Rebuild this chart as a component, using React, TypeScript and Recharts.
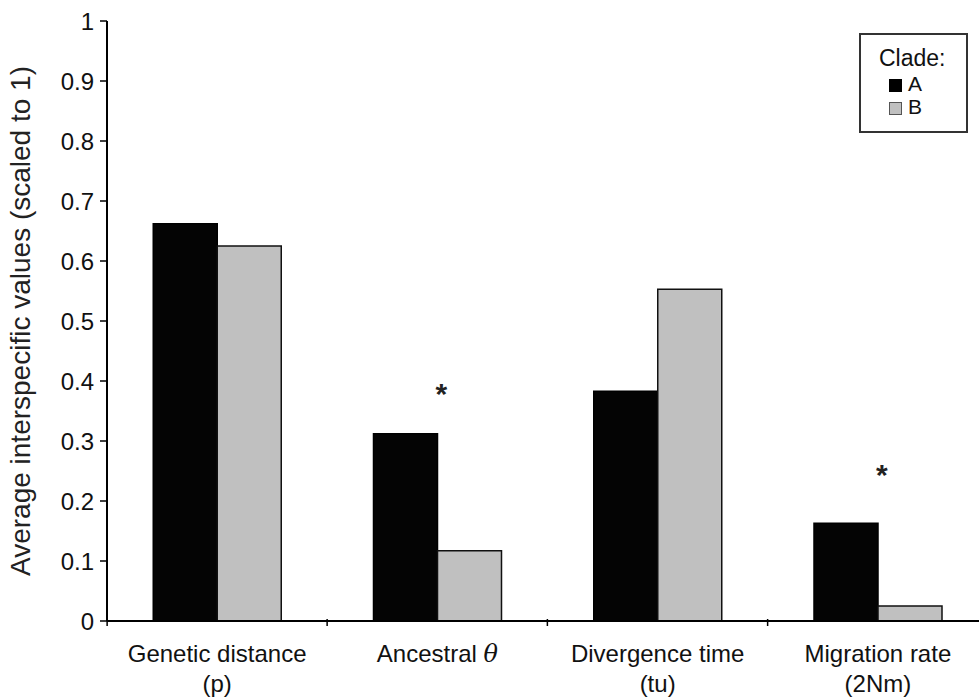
import { BarChart, Bar, XAxis, YAxis, ReferenceDot } from 'recharts';

const categories = ['Genetic distance|(p)', 'Ancestral θ|', 'Divergence time|(tu)', 'Migration rate|(2Nm)'];
const cladeA = [0.662, 0.312, 0.383, 0.163];
const cladeB = [0.625, 0.117, 0.553, 0.025];
const yTicks = [0, 0.1, 0.2, 0.3, 0.4, 0.5, 0.6, 0.7, 0.8, 0.9, 1];
// significance markers: category index and height of the asterisk
const significant = [
  { idx: 1, y: 0.385 },
  { idx: 3, y: 0.25 },
];

const data = categories.map((c, i) => ({ name: c, A: cladeA[i], B: cladeB[i] }));

const FONT = '"Liberation Sans", Arial, Helvetica, sans-serif';

function CategoryTick({ x, y, payload, index }: any) {
  const [line1, line2] = String(payload.value).split('|');
  const isTheta = line1.endsWith('θ');
  const half = 110;
  return (
    <g>
      {index === 0 && <line x1={x - half} x2={x - half} y1={y - 10} y2={y - 3} stroke="#000" strokeWidth={1.5} />}
      {index < categories.length - 1 && (
        <line x1={x + half} x2={x + half} y1={y - 10} y2={y - 3} stroke="#000" strokeWidth={1.5} />
      )}
      <text x={x} y={y + 33} textAnchor="middle" fontSize={24} fill="#111" fontFamily={FONT}>
        {isTheta ? (
          <>
            {line1.slice(0, -1)}
            <tspan fontFamily='"DejaVu Serif", serif' fontStyle="italic">θ</tspan>
          </>
        ) : (
          line1
        )}
      </text>
      {line2 && (
        <text x={x} y={y + 63} textAnchor="middle" fontSize={24} fill="#111" fontFamily={FONT}>
          {line2}
        </text>
      )}
    </g>
  );
}

function LegendBox() {
  const sq = { position: 'absolute', left: 28, width: 11, height: 11 } as const;
  const txt = { position: 'absolute', left: 47, fontSize: 21, lineHeight: '20px' } as const;
  return (
    <div
      style={{
        position: 'absolute',
        left: 859,
        top: 33,
        border: '2px solid #333',
        width: 109,
        height: 100,
        boxSizing: 'border-box',
        fontFamily: FONT,
        color: '#111',
        background: '#fff',
      }}
    >
      <div style={{ position: 'absolute', left: 18, top: 11, fontSize: 23, lineHeight: '24px' }}>Clade:</div>
      <span style={{ ...sq, top: 44, background: '#000', border: '1px solid #000' }} />
      <div style={{ ...txt, top: 39 }}>A</div>
      <span style={{ ...sq, top: 67, background: '#c0c0c0', border: '1px solid #555' }} />
      <div style={{ ...txt, top: 62 }}>B</div>
    </div>
  );
}

export default function App() {
  return (
    <div style={{ position: 'absolute', left: 0, top: 0, width: 979, height: 700, overflow: 'hidden', background: '#fff' }}>
      <BarChart
        width={988}
        height={700}
        data={data}
        margin={{ top: 21, right: 0, left: 0, bottom: 0 }}
        barCategoryGap="21%"
        barGap={0}
      >
        <XAxis
          dataKey="name"
          height={79}
          axisLine={{ stroke: '#000', strokeWidth: 2 }}
          tickLine={false}
          tick={<CategoryTick />}
          interval={0}
        />
        <YAxis
          width={107}
          domain={[0, 1]}
          ticks={yTicks}
          tickFormatter={(v: number) => String(v)}
          axisLine={{ stroke: '#000', strokeWidth: 2 }}
          tickLine={{ stroke: '#000', strokeWidth: 1.5 }}
          tickSize={7}
          tickMargin={6}
          tick={{ fontSize: 24, fill: '#111', fontFamily: FONT }}
          label={{
            value: 'Average interspecific values (scaled to 1)',
            angle: -90,
            position: 'insideLeft',
            offset: 0,
            dx: 20,
            style: { fontSize: 28, fill: '#222', fontFamily: FONT, textAnchor: 'middle' },
          }}
        />
        <Bar dataKey="A" fill="#040404" stroke="#000" strokeWidth={1.5} isAnimationActive={false} />
        <Bar dataKey="B" fill="#c0c0c0" stroke="#111" strokeWidth={1.5} isAnimationActive={false} />
        {significant.map((s) => (
          <ReferenceDot
            key={s.idx}
            x={categories[s.idx]}
            y={s.y}
            r={0}
            shape={(p: any) => (
              <text x={p.cx + 4} y={p.cy + 14} textAnchor="middle" fontSize={30} fontWeight="bold" fill="#222" fontFamily={FONT}>
                *
              </text>
            )}
          />
        ))}
      </BarChart>
      <LegendBox />
    </div>
  );
}
